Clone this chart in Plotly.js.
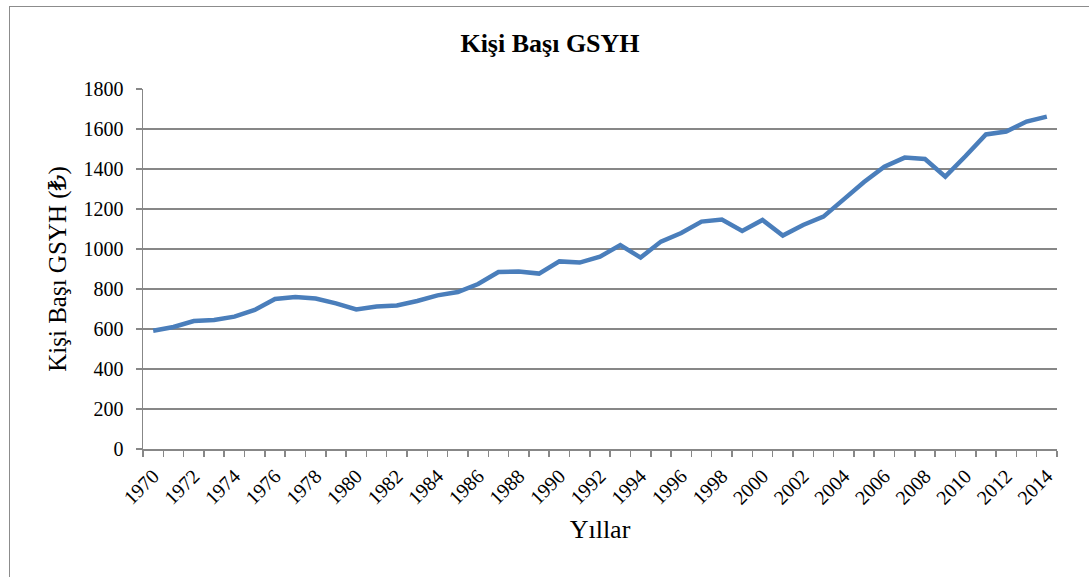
<!DOCTYPE html>
<html>
<head>
<meta charset="utf-8">
<script src="https://cdn.plot.ly/plotly-3.0.1.min.js"></script>
<style>
  html, body { margin: 0; padding: 0; background: #ffffff; overflow: hidden; }
  #chart { position: absolute; left: 0; top: 0; width: 1089px; height: 577px; }
  #frame { position: absolute; left: 9px; top: 6px; width: 1200px; height: 700px;
           border: 1.5px solid #8c8c8c; pointer-events: none; box-sizing: border-box; }
</style>
</head>
<body>
<div id="chart"></div>
<div id="frame"></div>
<script>
// Data
const years = [1970,1971,1972,1973,1974,1975,1976,1977,1978,1979,
               1980,1981,1982,1983,1984,1985,1986,1987,1988,1989,
               1990,1991,1992,1993,1994,1995,1996,1997,1998,1999,
               2000,2001,2002,2003,2004,2005,2006,2007,2008,2009,
               2010,2011,2012,2013,2014];
const gdpPerCapita = [591,610,640,645,662,695,750,760,752,728,
                      698,713,718,740,768,785,825,885,888,877,
                      938,932,962,1020,957,1037,1080,1137,1147,1090,
                      1145,1067,1120,1162,1248,1335,1412,1457,1450,1362,
                      1465,1573,1587,1637,1662];
const tickYears = [1970,1972,1974,1976,1978,1980,1982,1984,1986,1988,1990,
                   1992,1994,1996,1998,2000,2002,2004,2006,2008,2010,2012,2014];
const tickLabels = tickYears.map(String);
const chartTitle = "Kişi Başı GSYH";
const xTitle = "Yıllar";
const yTitle = "Kişi Başı GSYH (₺)";

const FONT = "'Liberation Serif', 'Times New Roman', 'DejaVu Serif', serif";
const GRID = "#878787";

const trace = {
  x: years,
  y: gdpPerCapita,
  type: "scatter",
  mode: "lines",
  line: { color: "#4a7ebb", width: 4.5 },
  hoverinfo: "x+y"
};

const layout = {
  width: 1089,
  height: 577,
  margin: { l: 143, r: 32, t: 89, b: 128 },
  paper_bgcolor: "#ffffff",
  plot_bgcolor: "#ffffff",
  showlegend: false,
  font: { family: FONT, color: "#000000", size: 20 },
  title: {
    text: "<b>" + chartTitle + "</b>",
    font: { family: FONT, size: 26, color: "#000000" },
    xref: "container", x: 550 / 1089, xanchor: "center",
    yref: "container", y: 1 - 43 / 577, yanchor: "middle"
  },
  xaxis: {
    type: "linear",
    range: [1969.5, 2014.5],
    tickmode: "array",
    tickvals: tickYears,
    ticktext: tickLabels,
    tickangle: -45,
    ticks: "",
    showgrid: false,
    zeroline: false,
    showline: true,
    linecolor: GRID,
    linewidth: 1.5,
    tickfont: { family: FONT, size: 20, color: "#000000" },
    ticklabelstandoff: 6,
    minor: {
      tickmode: "linear",
      tick0: 1969.5,
      dtick: 1,
      ticks: "outside",
      ticklen: 6,
      tickwidth: 1.5,
      tickcolor: GRID,
      showgrid: false
    },
    title: {
      text: xTitle,
      font: { family: FONT, size: 26, color: "#000000" },
      standoff: 12
    },
    fixedrange: true
  },
  yaxis: {
    range: [0, 1800],
    tick0: 0,
    dtick: 200,
    ticks: "outside",
    ticklen: 6,
    tickwidth: 1.5,
    tickcolor: GRID,
    showgrid: true,
    gridcolor: GRID,
    gridwidth: 1.5,
    zeroline: false,
    showline: true,
    linecolor: GRID,
    linewidth: 1.5,
    tickfont: { family: FONT, size: 20, color: "#000000" },
    ticklabelstandoff: 8,
    title: {
      text: yTitle,
      font: { family: FONT, size: 25, color: "#000000" },
      standoff: 10
    },
    fixedrange: true
  }
};

Plotly.newPlot("chart", [trace], layout, { displayModeBar: false, staticPlot: true });
</script>
</body>
</html>
